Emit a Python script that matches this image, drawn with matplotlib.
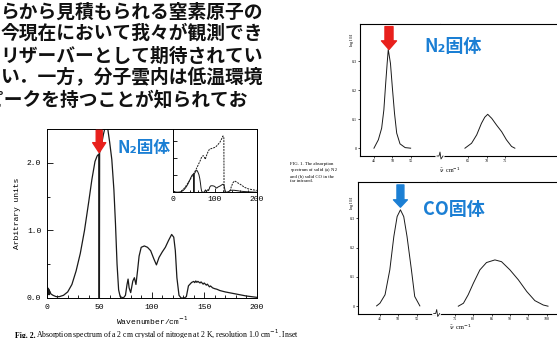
import matplotlib
matplotlib.use('Agg')
import matplotlib.pyplot as plt
from matplotlib.lines import Line2D
from matplotlib.ticker import MultipleLocator, FixedLocator, NullFormatter

W, H = 557, 338

# ---- values ----
# Fig. 2: N2 crystal absorption (arbitrary units)
wavenumber = [0, 0.5, 1, 1.5, 2, 2.5, 3, 4, 6, 9, 12, 16, 20, 24, 28, 32, 36, 40, 43, 46, 48,
              49.6, 49.8, 50.2, 50.4, 52, 54, 56, 58, 60, 62, 64, 65.5, 67, 68.5, 70, 73, 75,
              76.5, 77.5, 78.5, 80, 82, 83.5, 85, 86.5, 88, 90, 93, 96, 99, 102, 104.5, 107,
              110, 113, 116, 119, 121, 122.5, 124, 126, 128, 131, 133, 135, 138, 140, 141, 142,
              143, 144, 146, 147, 149, 150, 152, 153, 155, 156, 158, 160, 162, 165, 170, 180,
              190, 200]
absorbance = [0.16, 0.06, 0.15, 0.05, 0.13, 0.05, 0.10, 0.06, 0.04, 0.02, 0.02, 0.04, 0.09,
              0.20, 0.40, 0.66, 1.00, 1.42, 1.75, 2.02, 2.10, 2.13, 0.0, 0.0, 2.15, 2.25, 2.42,
              2.55, 2.52, 2.30, 2.05, 1.60, 1.10, 0.50, 0.12, 0.02, 0.0, 0.04, 0.20, 0.28, 0.15,
              0.08, 0.25, 0.30, 0.20, 0.40, 0.62, 0.75, 0.77, 0.75, 0.70, 0.58, 0.49, 0.60, 0.68,
              0.75, 0.85, 0.94, 0.90, 0.70, 0.30, 0.04, 0.0, 0.0, 0.02, 0.18, 0.23, 0.245, 0.228,
              0.252, 0.232, 0.246, 0.222, 0.238, 0.205, 0.222, 0.19, 0.205, 0.165, 0.178, 0.15,
              0.138, 0.13, 0.11, 0.09, 0.06, 0.03, 0.01]

# inset, dashed trace
inset_x = [20, 25, 30, 35, 40, 45, 50, 55, 60, 65, 68, 72, 75, 77, 80, 83, 87, 91, 96, 100,
           104, 108, 112, 116, 119.5, 121.5, 122, 130, 136, 139, 143, 147, 150, 155, 160, 165,
           170, 180, 190, 200]
inset_dashed = [0.15, 0.37, 0.67, 1.04, 1.41, 1.85, 2.22, 2.66, 3.18, 3.70, 4.07, 4.29, 4.14,
                3.85, 4.29, 4.66, 5.03, 5.10, 5.18, 5.25, 5.40, 5.62, 5.85, 6.22, 6.59, 6.36,
                0.0, 0.05, 0.10, 0.60, 1.10, 1.33, 1.25, 1.10, 0.95, 0.80, 0.60, 0.40, 0.30, 0.22]

# Fig. 1: log I0/I of solid N2 and solid CO
n2_band1_x = [45.0, 46.2, 47.1, 47.7, 48.2, 48.6, 48.9, 49.5, 50.0, 50.6, 51.2, 52.1, 53.5, 55.0]
n2_band1_y = [0.0, 0.029, 0.069, 0.132, 0.224, 0.293, 0.341, 0.293, 0.212, 0.121, 0.052, 0.015,
              0.002, 0.0]
n2_band2_x = [64.1, 65.9, 67.3, 68.6, 69.5, 70.3, 71.4, 72.7, 74.1, 75.4, 76.8, 77.7]
n2_band2_y = [0.0, 0.017, 0.046, 0.086, 0.107, 0.117, 0.103, 0.080, 0.057, 0.029, 0.006, 0.0]

co_band1_x = [44.1, 45.0, 46.4, 47.7, 48.8, 49.7, 50.6, 51.5, 52.4, 53.6, 54.5, 55.9]
co_band1_y = [0.001, 0.01, 0.039, 0.124, 0.238, 0.306, 0.329, 0.306, 0.238, 0.124, 0.033, 0.001]
co_band2_x = [75.9, 77.3, 78.6, 80.0, 81.8, 83.6, 85.9, 87.7, 90.0, 92.3, 94.6, 96.8, 99.1, 100.4]
co_band2_y = [0.0, 0.01, 0.039, 0.078, 0.124, 0.149, 0.158, 0.152, 0.124, 0.090, 0.050, 0.019,
              0.004, 0.0]

jp_lines = ['らから見積もられる窒素原子の',
            '今現在において我々が観測でき',
            'リザーバーとして期待されてい',
            'い．一方，分子雲内は低温環境',
            'ピークを持つことが知られてお']

RED = '#e8201c'
BLUE = '#1b7fd4'
INK = '#1a1a1a'
MONO = 'Liberation Mono'
SERIF = 'Liberation Serif'
JP = ['Noto Sans CJK JP', 'DejaVu Sans']


def box(l, t, r, b):
    return [l / W, 1 - b / H, (r - l) / W, (b - t) / H]


def fpx(x, y):
    return x / W, 1 - y / H


fig = plt.figure(figsize=(W / 100, H / 100), dpi=100)
fig.patch.set_facecolor('white')

# ---- Japanese body text ----
for line, xr, yc in zip(jp_lines, [263, 263, 263, 263, 247], [12, 33, 56, 78, 100]):
    fig.text(*fpx(xr, yc), line, ha='right', va='center', fontsize=13.5,
             fontweight='bold', family=JP, color='#111111')

# ---- Fig. 2 main panel ----
ax = fig.add_axes(box(46.7, 129, 256.7, 298))
ax.plot(wavenumber, absorbance, color=INK, lw=0.9)
ax.set_xlim(0, 200)
ax.set_ylim(0, 2.5)
ax.xaxis.set_major_locator(MultipleLocator(50))
ax.xaxis.set_minor_locator(MultipleLocator(10))
ax.yaxis.set_major_locator(FixedLocator([0, 1, 2]))
ax.yaxis.set_minor_locator(MultipleLocator(0.5))
ax.yaxis.set_major_formatter(lambda v, p: f'{v:.1f}')
ax.tick_params(which='both', direction='in', labelsize=5.8, labelfontfamily=MONO, width=0.6)
ax.tick_params(which='major', length=4, pad=4)
ax.tick_params(which='minor', length=2)
for s in ax.spines.values():
    s.set_linewidth(0.7)
ax.set_xlabel('Wavenumber/cm$^{-1}$', family=MONO, fontsize=5.8, labelpad=3)
ax.set_ylabel('Arbitrary units', family=MONO, fontsize=5.8, labelpad=4)

ax.annotate('', xy=(50, 2.15), xytext=(50, 2.48), annotation_clip=False,
            arrowprops=dict(arrowstyle='simple,head_length=0.72,head_width=0.94,tail_width=0.43',
                            mutation_scale=10, color=RED, shrinkA=0, shrinkB=0))
ax.text(92.7, 2.22, 'N₂固体', color=BLUE, fontsize=12, fontweight='bold', family=JP,
        ha='center', va='center')

# inset
axin = fig.add_axes(box(173, 129, 256.7, 192.3))
axin.plot(wavenumber, absorbance, color=INK, lw=0.7)
axin.plot(inset_x, inset_dashed, color=INK, lw=0.7, ls=(0, (2, 1)))
axin.set_xlim(0, 200)
axin.set_ylim(0, 7.4)
axin.xaxis.set_major_locator(FixedLocator([0, 100, 200]))
axin.xaxis.set_minor_locator(MultipleLocator(20))
axin.yaxis.set_major_locator(FixedLocator([2, 4, 6]))
axin.yaxis.set_major_formatter(NullFormatter())
axin.tick_params(which='both', direction='in', labelsize=5.8, labelfontfamily=MONO, width=0.6)
axin.tick_params(which='major', length=3, pad=2.5)
axin.tick_params(which='minor', length=1.5)
for s in axin.spines.values():
    s.set_linewidth(0.7)

fig.text(*fpx(15, 338.5), 'Fig. 2.', fontsize=5.6, fontweight='bold', family=SERIF,
         va='baseline')
fig.text(*fpx(36, 338.5), 'Absorption spectrum of a 2 cm crystal of nitrogen at 2 K, '
         'resolution 1.0 cm$^{-1}$. Inset', fontsize=5.6, family=SERIF, va='baseline')

# ---- Fig. 1 panels (broken x axis) ----
def panel(top, bottom, left, split, xl_left, xl_right, ticks_left, ticks_right,
          xa, ya, xb, yb, ylim):
    axl = fig.add_axes(box(left, top, split, bottom))
    axr = fig.add_axes(box(split, top, split + 160, bottom), sharey=axl)
    axl.plot(xa, ya, color=INK, lw=0.7)
    axr.plot(xb, yb, color=INK, lw=0.7)
    axl.set_xlim(*xl_left)
    axr.set_xlim(*xl_right)
    axl.set_ylim(*ylim)
    axl.xaxis.set_major_locator(FixedLocator(ticks_left))
    axr.xaxis.set_major_locator(FixedLocator(ticks_right))
    axl.yaxis.set_major_locator(FixedLocator([0, 0.1, 0.2, 0.3]))
    axl.yaxis.set_major_formatter(lambda v, p: '0' if v == 0 else f'{v:.1f}')
    axl.spines['right'].set_visible(False)
    axr.spines['left'].set_visible(False)
    axr.tick_params(axis='y', left=False, labelleft=False)
    for a in (axl, axr):
        a.tick_params(direction='out', length=1.5, width=0.5, pad=1, labelsize=3,
                      labelfontfamily=SERIF)
        for s in a.spines.values():
            s.set_linewidth(0.8)
    # break mark on the bottom spine
    bx, by = split, bottom
    xs = [bx - 3, bx - 1, bx, bx + 1, bx + 3]
    ys = [by, by, by - 4, by + 3, by]
    fig.add_artist(Line2D([x / W for x in xs], [1 - y / H for y in ys], color='white', lw=2.2,
                          transform=fig.transFigure))
    fig.add_artist(Line2D([x / W for x in xs], [1 - y / H for y in ys], color=INK, lw=0.6,
                          transform=fig.transFigure))
    return axl, axr


n2l, n2r = panel(24, 156, 360, 440, (41.2, 63.0), (57.3, 100.9), [45, 50, 55], [65, 70, 75],
                 n2_band1_x, n2_band1_y, n2_band2_x, n2_band2_y, (-0.027, 0.429))
col, cor = panel(182.3, 313.5, 358.3, 436.7, (39.1, 60.5), (70.0, 113.7), [45, 50, 55],
                 [75, 80, 85, 90, 95, 100], co_band1_x, co_band1_y, co_band2_x, co_band2_y,
                 (-0.025, 0.423))

n2l.annotate('', xy=(49.1, 0.341), xytext=(49.1, 0.42), annotation_clip=False,
             arrowprops=dict(arrowstyle='simple,head_length=0.62,head_width=1.08,tail_width=0.58',
                             mutation_scale=10, color=RED, shrinkA=0, shrinkB=0))
n2r.text(60.8, 0.35, 'N₂固体', color=BLUE, fontsize=13, fontweight='bold', family=JP,
         ha='center', va='center', clip_on=False)

col.annotate('', xy=(50.6, 0.338), xytext=(50.6, 0.414), annotation_clip=False,
             arrowprops=dict(arrowstyle='simple,head_length=0.53,head_width=1.0,tail_width=0.5',
                             mutation_scale=10, color=BLUE, shrinkA=0, shrinkB=0))
cor.text(74.7, 0.331, 'CO固体', color=BLUE, fontsize=13, fontweight='bold', family=JP,
         ha='center', va='center', clip_on=False)

for yc in (40, 203):
    fig.text(*fpx(351.7, yc), 'log I$_0$/I', rotation=90, fontsize=3.2, family=SERIF,
             ha='center', va='center')
fig.text(*fpx(450, 170), r'$\bar{\nu}$  cm$^{-1}$', fontsize=4.3, family=SERIF,
         ha='center', va='center')
fig.text(*fpx(460, 327), r'$\bar{\nu}$  cm$^{-1}$', fontsize=4.6, family=SERIF,
         ha='center', va='center')

fig.text(*fpx(290, 162), 'FIG. 1. The absorption\nspectrum of solid (a) N$_2$\n'
         'and (b) solid CO in the\nfar infrared.', fontsize=3.4, family=SERIF,
         va='top', ha='left', linespacing=1.05)

fig.savefig('out.png', dpi=100, facecolor='white')
